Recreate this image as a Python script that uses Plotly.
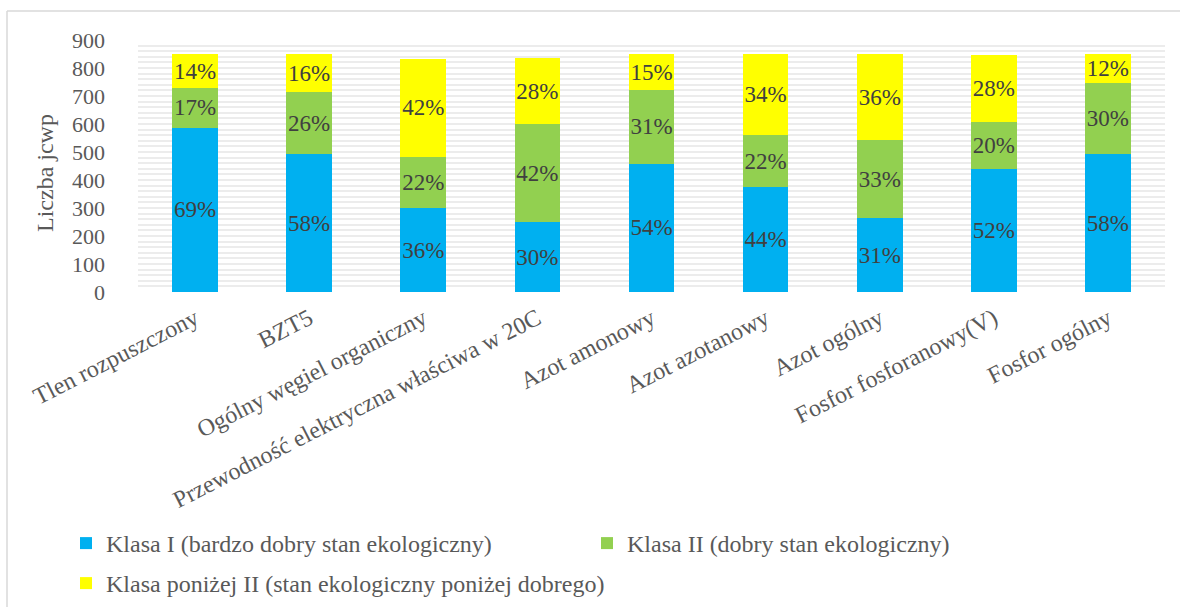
import plotly.graph_objects as go

# Wskaźniki jakości wód i liczba jcwp w poszczególnych klasach
kategorie = [
    "Tlen rozpuszczony",
    "BZT5",
    "Ogólny węgiel organiczny",
    "Przewodność elektryczna właściwa w 20C",
    "Azot amonowy",
    "Azot azotanowy",
    "Azot ogólny",
    "Fosfor fosforanowy(V)",
    "Fosfor ogólny",
]
klasa_1 = [587, 492, 300, 250, 458, 374, 263, 439, 492]
klasa_2 = [142, 221, 183, 350, 263, 187, 280, 169, 255]
ponizej_2 = [120, 136, 349, 234, 128, 288, 306, 237, 102]

nazwy = [
    "Klasa I (bardzo dobry stan ekologiczny)",
    "Klasa II (dobry stan ekologiczny)",
    "Klasa poniżej II (stan ekologiczny poniżej dobrego)",
]
kolory = ["#00B0F0", "#92D050", "#FFFF00"]
tytul_osi_y = "Liczba jcwp"

SERIF = "Liberation Serif"
W, H = 1180, 607
ML, MR, MT, MB = 138, 15, 40, 315
PW, PH = W - ML - MR, H - MT - MB


def px_x(x):
    return (x - ML) / PW


def px_y(y):
    return (H - MB - y) / PH


sumy = [a + b + c for a, b, c in zip(klasa_1, klasa_2, ponizej_2)]

fig = go.Figure()
serie = [klasa_1, klasa_2, ponizej_2]
legendy = ["legend", "legend", "legend2"]
for nazwa, wartosci, kolor, leg in zip(nazwy, serie, kolory, legendy):
    etykiety = [f"{round(100 * v / s)}%" for v, s in zip(wartosci, sumy)]
    fig.add_trace(go.Bar(
        x=kategorie,
        y=wartosci,
        name=nazwa,
        marker=dict(color=kolor, line=dict(width=0)),
        text=etykiety,
        textposition="inside",
        insidetextanchor="middle",
        textangle=0,
        constraintext="none",
        textfont=dict(family=SERIF, size=23, color="#404040"),
        legend=leg,
        hoverinfo="x+y+name",
    ))

grid = "#ececec"
leg_font = dict(family=SERIF, size=24, color="#595959")
fig.update_layout(
    width=W,
    height=H,
    barmode="stack",
    bargap=0.6,
    paper_bgcolor="white",
    plot_bgcolor="white",
    margin=dict(l=ML, r=MR, t=MT, b=MB, autoexpand=False),
    font=dict(family=SERIF, color="#595959"),
    xaxis=dict(
        tickangle=-27,
        tickfont=dict(family=SERIF, size=24, color="#595959"),
        ticklabelstandoff=7,
        automargin=False,
        showline=False,
        ticks="",
        showgrid=False,
    ),
    yaxis=dict(
        range=[0, 900],
        dtick=100,
        tickfont=dict(family=SERIF, size=22, color="#595959"),
        ticklabelstandoff=32,
        automargin=False,
        showgrid=True,
        gridcolor=grid,
        gridwidth=2,
        minor=dict(dtick=20, showgrid=True, gridcolor=grid, gridwidth=2),
        zeroline=False,
        showline=False,
        ticks="",
    ),
    legend=dict(
        orientation="h",
        x=px_x(66), xanchor="left",
        y=px_y(521), yanchor="top",
        entrywidth=476,
        itemwidth=30,
        font=leg_font,
        bgcolor="rgba(0,0,0,0)",
        traceorder="normal",
    ),
    legend2=dict(
        orientation="h",
        x=px_x(66), xanchor="left",
        y=px_y(561), yanchor="top",
        itemwidth=30,
        font=leg_font,
        bgcolor="rgba(0,0,0,0)",
    ),
    annotations=[
        dict(text=tytul_osi_y, xref="paper", yref="paper",
             x=px_x(45), y=px_y(173), xanchor="center", yanchor="middle",
             textangle=-90, showarrow=False,
             font=dict(family=SERIF, size=24, color="#595959")),
    ],
    shapes=[
        dict(type="line", xref="paper", yref="paper",
             x0=px_x(7), x1=px_x(W + 5), y0=px_y(11), y1=px_y(11),
             line=dict(color="#d9d9d9", width=1.5)),
        dict(type="line", xref="paper", yref="paper",
             x0=px_x(7), x1=px_x(7), y0=px_y(11), y1=px_y(H + 5),
             line=dict(color="#d9d9d9", width=1.5)),
    ],
)

fig.write_html("out.html")
